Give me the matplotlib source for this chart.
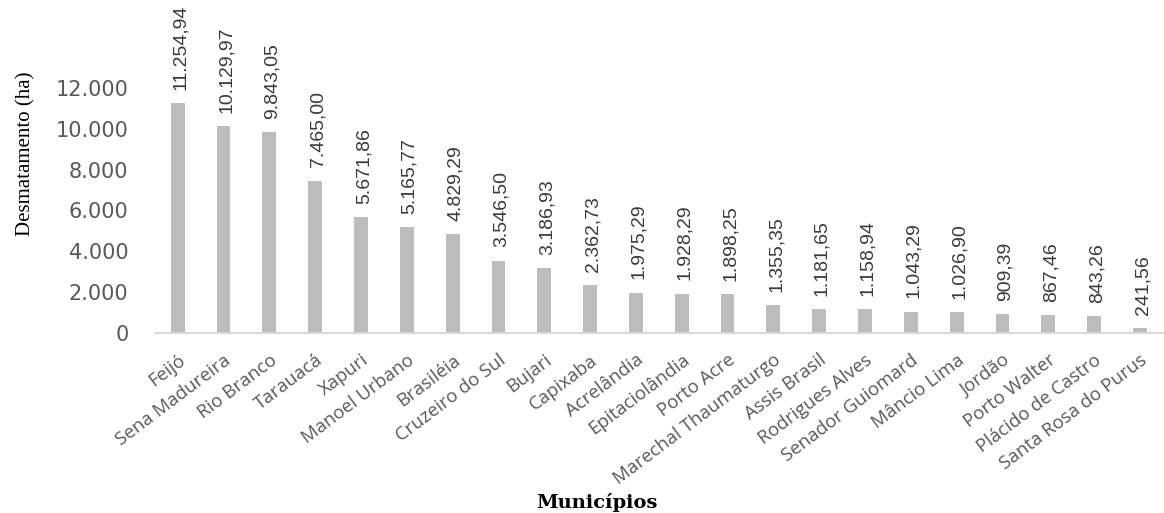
import matplotlib.pyplot as plt
import numpy as np

# Municipalities of Acre and deforested area (ha)
municipios = ["Feijó", "Sena Madureira", "Rio Branco", "Tarauacá", "Xapuri",
              "Manoel Urbano", "Brasiléia", "Cruzeiro do Sul", "Bujari", "Capixaba",
              "Acrelândia", "Epitaciolândia", "Porto Acre", "Marechal Thaumaturgo",
              "Assis Brasil", "Rodrigues Alves", "Senador Guiomard", "Mâncio Lima",
              "Jordão", "Porto Walter", "Plácido de Castro", "Santa Rosa do Purus"]
desmatamento = [11254.94, 10129.97, 9843.05, 7465.00, 5671.86,
                5165.77, 4829.29, 3546.50, 3186.93, 2362.73,
                1975.29, 1928.29, 1898.25, 1355.35,
                1181.65, 1158.94, 1043.29, 1026.90,
                909.39, 867.46, 843.26, 241.56]
yticks = [0, 2000, 4000, 6000, 8000, 10000, 12000]


def br(v, dec=2):
    # brazilian number format: 11.254,94
    s = f"{v:,.{dec}f}"
    return s.replace(",", "X").replace(".", ",").replace("X", ".")


fig = plt.figure(figsize=(11.64, 5.13), dpi=100)
ax = fig.add_axes([0.133, 0.351, 0.866, 0.4775])

x = np.arange(len(municipios))
bars = ax.bar(x, desmatamento, width=0.3, color="#bdbdbd")

for xi, v in zip(x, desmatamento):
    ax.annotate(br(v), (xi, v), xytext=(2, 9.5), textcoords="offset points",
                rotation=90, ha="center", va="bottom", fontsize=14,
                color="#3a3a3a", family="Liberation Sans")

ax.set_xlim(-0.5, len(municipios) - 0.5)
ax.set_ylim(0, 12000)
ax.set_yticks(yticks)
ax.set_yticklabels([br(t, 0) for t in yticks], fontsize=15, color="#595959")
ax.set_xticks(x)
ax.set_xticklabels(municipios, rotation=37, ha="right", rotation_mode="anchor",
                   fontsize=13.4, color="#595959", family="Open Sans")
ax.tick_params(axis="y", length=0, pad=19)
ax.tick_params(axis="x", length=0, pad=13)

for s in ["top", "right", "left"]:
    ax.spines[s].set_visible(False)
ax.spines["bottom"].set_color("#d9d9d9")
ax.spines["bottom"].set_linewidth(1.5)

fig.text(0.022, 0.70, "Desmatamento (ha)", rotation=90, ha="center", va="center",
         fontsize=15, family="Liberation Serif", color="black")
fig.text(0.513, 0.0195, "Municípios", ha="center", va="center", fontsize=14,
         family="DejaVu Serif", weight="bold", color="black")

fig.savefig("out.png", dpi=100)
